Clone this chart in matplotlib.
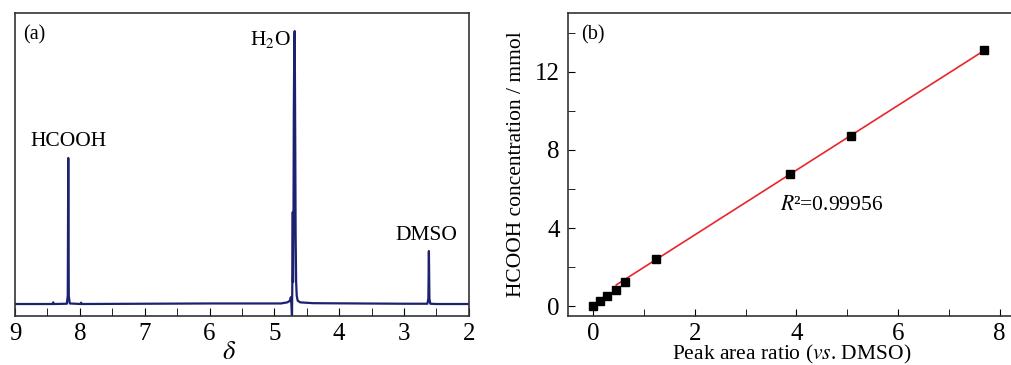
import matplotlib
matplotlib.use('Agg')
import matplotlib.pyplot as plt
from matplotlib.ticker import MultipleLocator

plt.rcParams['font.family'] = ['Liberation Serif', 'DejaVu Serif']
plt.rcParams['mathtext.fontset'] = 'stix'
plt.rcParams['font.size'] = 15.5

# (a) 1H NMR spectrum as (delta, intensity) points
nmr_delta = [9.00, 8.42, 8.41, 8.40, 8.20, 8.186, 8.178, 8.170, 8.155, 7.99, 7.98, 7.97,
             6.00, 4.90, 4.80, 4.76, 4.745, 4.735, 4.728, 4.722, 4.716, 4.712, 4.705,
             4.700, 4.692, 4.686, 4.680, 4.672, 4.664, 4.655, 4.640, 4.60, 4.40, 3.00,
             2.64, 2.625, 2.617, 2.609, 2.595, 2.50, 2.00]
nmr_int = [0.000, 0.000, 0.006, 0.000, 0.001, 0.030, 0.535, 0.030, 0.002, 0.000, 0.005, 0.000,
           0.002, 0.002, 0.006, 0.012, 0.025, -0.010, -0.045, 0.100, 0.337, 0.080, 0.300,
           0.700, 0.980, 1.000, 0.700, 0.250, 0.080, 0.030, 0.012, 0.006, 0.003, 0.001,
           0.001, 0.020, 0.194, 0.020, 0.001, 0.000, 0.000]

# (b) calibration
ratio = [0.0, 0.125, 0.277, 0.44, 0.63, 1.24, 3.88, 5.07, 7.70]
conc = [0.0, 0.26, 0.51, 0.85, 1.24, 2.40, 6.79, 8.71, 13.09]
fit_x = [0.45, 7.70]
fit_y = [1.09, 13.09]

fig = plt.figure(figsize=(10.11, 3.65), dpi=100)
ax1 = fig.add_axes([0.0148, 0.1342, 0.449, 0.830])
ax2 = fig.add_axes([0.5618, 0.1342, 0.442, 0.830])

ax1.plot(nmr_delta, nmr_int, color='#1c2270', lw=1.6)
ax1.set_xlim(9, 2)
ax1.set_ylim(-0.044, 1.066)
ax1.set_yticks([])
ax1.xaxis.set_major_locator(MultipleLocator(1))
ax1.xaxis.set_minor_locator(MultipleLocator(0.5))
ax1.tick_params(axis='x', which='both', direction='in', top=False, length=6)
ax1.tick_params(axis='x', which='major', pad=5, labelsize=18)
ax1.set_xlabel(r'$\delta$', fontsize=19)
ax1.xaxis.set_label_coords(0.472, -0.143)
ax1.xaxis.label.set_verticalalignment('baseline')
ax1.text(0.017, 0.96, '(a)', transform=ax1.transAxes, ha='left', va='top', fontsize=14.5)
ax1.text(8.17, 0.56, 'HCOOH', ha='center', va='bottom')
ax1.text(4.74, 0.93, r'H$_2$O', ha='right', va='bottom')
ax1.text(2.66, 0.215, 'DMSO', ha='center', va='bottom')

ax2.plot(fit_x, fit_y, color='#e8262a', lw=1.2, zorder=2)
ax2.plot(ratio, conc, 's', color='black', ms=5.5, zorder=3)
ax2.set_xlim(-0.5, 8.3)
ax2.set_ylim(-0.5, 15)
ax2.xaxis.set_major_locator(MultipleLocator(2))
ax2.xaxis.set_minor_locator(MultipleLocator(1))
ax2.yaxis.set_major_locator(MultipleLocator(4))
ax2.yaxis.set_minor_locator(MultipleLocator(2))
ax2.tick_params(which='both', direction='in', top=False, right=False, length=5)
ax2.tick_params(which='major', labelsize=18)
ax2.tick_params(axis='x', pad=5)
ax2.tick_params(axis='y', pad=6)
ax2.set_xlabel(r'Peak area ratio ($\mathit{vs}$. DMSO)')
ax2.xaxis.set_label_coords(0.5, -0.143)
ax2.xaxis.label.set_verticalalignment('baseline')
ax2.set_ylabel('HCOOH concentration / mmol', labelpad=6)
ax2.text(0.03, 0.96, '(b)', transform=ax2.transAxes, ha='left', va='top', fontsize=14.5)
ax2.text(3.67, 4.9, r'$\mathit{R}$²=0.99956', ha='left', va='baseline')

for ax in (ax1, ax2):
    for s in ax.spines.values():
        s.set_color('#333333')
        s.set_linewidth(1.2)

fig.savefig('out.png', dpi=100)
